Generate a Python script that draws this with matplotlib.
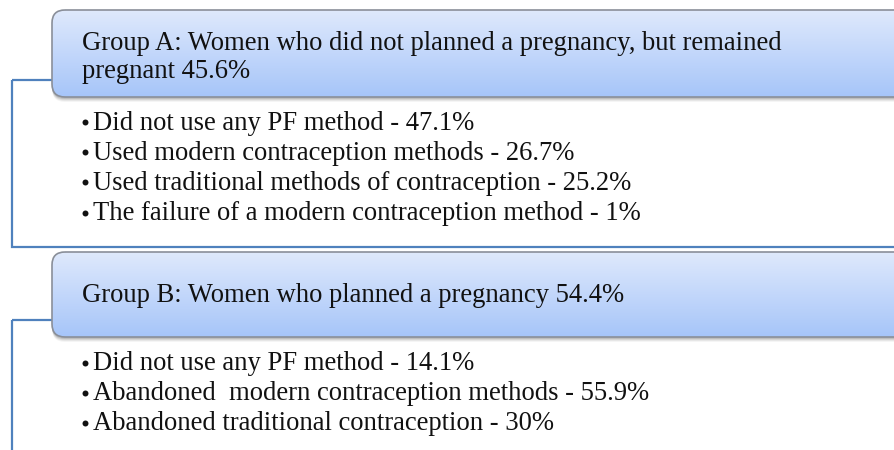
import numpy as np
import matplotlib.pyplot as plt
from matplotlib.patches import FancyBboxPatch, Rectangle
from matplotlib.colors import LinearSegmentedColormap

plt.rcParams['font.family'] = ['Liberation Serif', 'DejaVu Serif']

# diagram content
group_titles = [
    "Group A: Women who did not planned a pregnancy, but remained\npregnant 45.6%",
    "Group B: Women who planned a pregnancy 54.4%",
]
group_a_items = [
    "Did not use any PF method - 47.1%",
    "Used modern contraception methods - 26.7%",
    "Used traditional methods of contraception - 25.2%",
    "The failure of a modern contraception method - 1%",
]
group_b_items = [
    "Did not use any PF method - 14.1%",
    "Abandoned  modern contraception methods - 55.9%",
    "Abandoned traditional contraception - 30%",
]
group_items = [group_a_items, group_b_items]

W, H = 895, 450
fig = plt.figure(figsize=(W / 100, H / 100), dpi=100)
ax = fig.add_axes([0, 0, 1, 1])
ax.set_xlim(0, W)
ax.set_ylim(H, 0)
ax.axis('off')

frame_col = '#4f81bd'
grad = LinearSegmentedColormap.from_list('hdr', ['#dfe9fc', '#a6c5f9'])

# layout in pixels: header top/bottom, frame top/bottom, title baseline, first bullet baseline
layout = [
    dict(top=10, bottom=97, ftop=80, fbot=247, ty=50, by=129.5),
    dict(top=252, bottom=337, ftop=320, fbot=470, ty=301.5, by=370),
]
line_step = 30.2
title_step = 28
fs = 19.2

for title, items, lay in zip(group_titles, group_items, layout):
    # blue frame behind the header
    ax.add_patch(Rectangle((12, lay['ftop']), W + 20, lay['fbot'] - lay['ftop'],
                           fill=False, ec=frame_col, lw=1.6, zorder=1))

    # soft shadow under the header
    for i, a in enumerate([0.10, 0.08, 0.06, 0.04]):
        ax.add_patch(FancyBboxPatch((52, lay['top'] + 2 + i), W, lay['bottom'] - lay['top'],
                                    boxstyle='round,pad=0,rounding_size=13',
                                    fc='black', ec='none', alpha=a, zorder=2))

    box = FancyBboxPatch((52, lay['top']), W, lay['bottom'] - lay['top'],
                         boxstyle='round,pad=0,rounding_size=13',
                         fc='none', ec='#8a8f99', lw=1.2, zorder=4)
    ax.add_patch(box)
    g = np.linspace(0, 1, 256).reshape(-1, 1)
    im = ax.imshow(g, cmap=grad, aspect='auto', zorder=3,
                   extent=(52, 52 + W, lay['bottom'], lay['top']))
    im.set_clip_path(box)

    for j, line in enumerate(title.split('\n')):
        ax.text(82, lay['ty'] + j * title_step, line, fontsize=fs, va='baseline', ha='left',
                color='#111111', zorder=5)

    for k, item in enumerate(items):
        y = lay['by'] + k * line_step
        ax.plot(85, y - 7.5, 'o', ms=4.3, color='#111111', mec='none', zorder=5)
        ax.text(93, y, item, fontsize=fs, va='baseline', ha='left', color='#111111', zorder=5)

ax.set_xlim(0, W)
ax.set_ylim(H, 0)
fig.savefig('out.png', dpi=100)
